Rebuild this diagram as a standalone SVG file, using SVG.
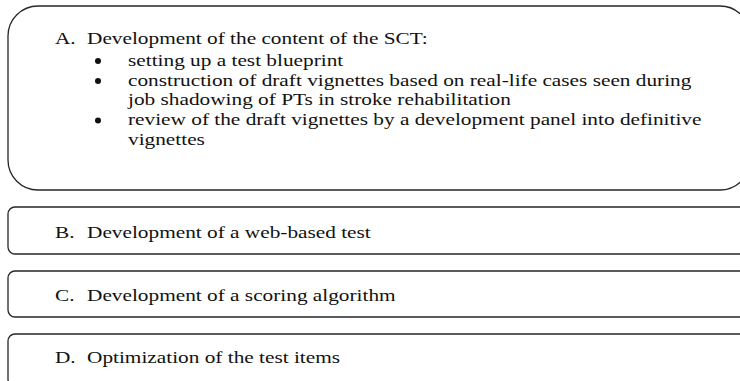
<svg xmlns="http://www.w3.org/2000/svg" width="740" height="381" viewBox="0 0 740 381">
<style>
.box{fill:#fff;stroke:#262626;stroke-width:1.3}
.t{font-family:"Liberation Serif","Times New Roman",serif;font-size:17.5px;fill:#111}
.b{fill:#111}
</style>
<rect width="740" height="381" fill="#fff"/>
<g id="nodeA">
<rect class="box" x="8" y="6" width="742" height="184" rx="30" ry="30"/>
<circle class="b" cx="98" cy="61" r="3"/>
<circle class="b" cx="98" cy="81" r="3"/>
<circle class="b" cx="98" cy="120.5" r="3"/>
<g transform="scale(1.217 1)">
<text class="t" x="45.2" y="44">A.</text>
<text class="t" x="71.5" y="44">Development of the content of the SCT:</text>
<text class="t" x="105.2" y="66">setting up a test blueprint</text>
<text class="t" x="105.2" y="86">construction of draft vignettes based on real-life cases seen during</text>
<text class="t" x="105.2" y="105">job shadowing of PTs in stroke rehabilitation</text>
<text class="t" x="105.2" y="125">review of the draft vignettes by a development panel into definitive</text>
<text class="t" x="105.2" y="145">vignettes</text>
</g>
</g>
<g id="nodeB">
<rect class="box" x="8" y="207" width="745" height="47" rx="7" ry="7"/>
<g transform="scale(1.217 1)">
<text class="t" x="45.2" y="238">B.</text>
<text class="t" x="71.5" y="238">Development of a web-based test</text>
</g>
</g>
<g id="nodeC">
<rect class="box" x="8" y="271" width="745" height="46" rx="7" ry="7"/>
<g transform="scale(1.217 1)">
<text class="t" x="45.2" y="301.5">C.</text>
<text class="t" x="71.5" y="301.5">Development of a scoring algorithm</text>
</g>
</g>
<g id="nodeD">
<rect class="box" x="8" y="334" width="745" height="52" rx="7" ry="7"/>
<g transform="scale(1.217 1)">
<text class="t" x="45.2" y="363">D.</text>
<text class="t" x="71.5" y="363">Optimization of the test items</text>
</g>
</g>
<g id="connectors"/>
</svg>
